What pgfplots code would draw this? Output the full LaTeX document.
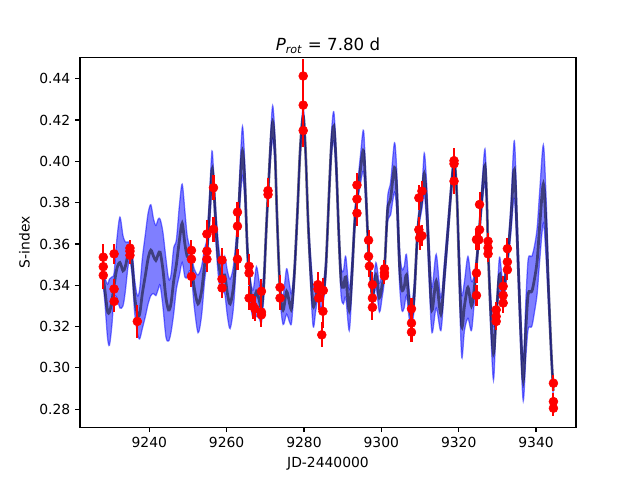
\documentclass[border=0pt]{standalone}
\usepackage{fontspec}
\setmainfont{DejaVu Sans}
\usepackage{pgfplots}
\usepackage{pgfplotstable}
\pgfplotsset{compat=1.18}

% GP model: time, mean, half width of the band
\pgfplotstableread{
t m w
9227.9 0.347 0.004
9228.5 0.338 0.006
9229.2 0.3275 0.013
9229.7 0.327 0.016
9230.3 0.332 0.012
9230.9 0.340 0.006
9231.6 0.348 0.014
9232.4 0.351 0.022
9233.2 0.347 0.017
9233.8 0.349 0.012
9234.5 0.355 0.006
9235.0 0.356 0.004
9235.6 0.350 0.006
9236.2 0.335 0.008
9236.9 0.326 0.009
9237.5 0.326 0.012
9238.2 0.336 0.017
9239.0 0.345 0.020
9239.7 0.353 0.022
9240.4 0.357 0.022
9241.1 0.354 0.018
9241.7 0.352 0.017
9242.3 0.355 0.017
9242.8 0.356 0.016
9243.5 0.348 0.018
9244.3 0.334 0.019
9245.0 0.328 0.015
9245.6 0.331 0.014
9246.3 0.342 0.016
9247.0 0.350 0.012
9247.8 0.362 0.017
9248.5 0.370 0.019
9249.2 0.360 0.016
9249.8 0.354 0.010
9250.4 0.353 0.006
9250.9 0.350 0.005
9251.6 0.339 0.009
9252.6 0.331 0.014
9253.5 0.337 0.012
9254.3 0.350 0.008
9254.9 0.357 0.006
9255.6 0.377 0.008
9256.2 0.396 0.009
9256.6 0.390 0.006
9257.3 0.366 0.008
9258.0 0.350 0.008
9258.8 0.343 0.006
9259.5 0.345 0.009
9260.2 0.336 0.011
9260.9 0.331 0.012
9261.8 0.340 0.010
9262.8 0.365 0.006
9263.5 0.390 0.009
9264.1 0.405 0.012
9264.7 0.390 0.009
9265.3 0.360 0.006
9265.8 0.345 0.004
9266.4 0.334 0.006
9266.9 0.331 0.007
9267.7 0.337 0.012
9268.4 0.333 0.009
9269.0 0.329 0.007
9269.6 0.340 0.006
9270.2 0.365 0.005
9270.7 0.384 0.004
9271.3 0.405 0.006
9271.9 0.419 0.008
9272.5 0.405 0.007
9273.0 0.375 0.006
9273.8 0.338 0.004
9274.6 0.328 0.007
9275.5 0.337 0.011
9276.3 0.331 0.009
9276.8 0.329 0.007
9277.5 0.345 0.005
9278.3 0.375 0.005
9279.0 0.405 0.004
9279.8 0.422 0.004
9280.4 0.405 0.004
9281.2 0.365 0.005
9282.3 0.331 0.010
9283.0 0.334 0.007
9283.6 0.338 0.004
9284.3 0.333 0.004
9285.0 0.336 0.004
9285.7 0.350 0.005
9286.5 0.385 0.005
9287.1 0.408 0.006
9287.7 0.417 0.007
9288.3 0.400 0.007
9289.0 0.365 0.006
9289.6 0.342 0.007
9290.2 0.339 0.008
9290.8 0.344 0.010
9291.7 0.328 0.010
9292.4 0.345 0.007
9293.1 0.370 0.005
9293.7 0.382 0.004
9294.6 0.396 0.007
9295.4 0.405 0.010
9296.0 0.385 0.007
9296.7 0.356 0.004
9297.2 0.345 0.004
9297.7 0.334 0.004
9298.6 0.345 0.006
9299.5 0.334 0.007
9300.2 0.340 0.006
9300.8 0.347 0.004
9301.6 0.376 0.006
9302.4 0.382 0.008
9303.4 0.397 0.012
9304.0 0.385 0.010
9304.7 0.350 0.009
9305.3 0.338 0.010
9305.9 0.339 0.010
9306.5 0.345 0.010
9307.2 0.331 0.007
9307.8 0.325 0.005
9308.5 0.335 0.006
9309.2 0.360 0.005
9309.7 0.372 0.004
9310.5 0.382 0.005
9311.1 0.394 0.010
9311.7 0.380 0.010
9312.4 0.350 0.010
9313.1 0.328 0.011
9314.2 0.342 0.013
9315.4 0.326 0.008
9316.3 0.345 0.006
9317.2 0.366 0.005
9318.0 0.385 0.004
9318.8 0.400 0.003
9319.5 0.385 0.004
9320.2 0.345 0.010
9320.8 0.320 0.015
9321.5 0.330 0.012
9322.4 0.339 0.015
9323.3 0.330 0.012
9324.0 0.338 0.007
9324.6 0.350 0.004
9325.4 0.368 0.004
9326.1 0.385 0.006
9326.8 0.398 0.008
9327.3 0.380 0.006
9327.6 0.358 0.004
9328.2 0.330 0.008
9329.0 0.307 0.013
9329.7 0.325 0.004
9330.5 0.345 0.008
9331.0 0.340 0.008
9331.5 0.336 0.004
9332.0 0.342 0.005
9332.6 0.352 0.004
9333.5 0.372 0.007
9334.4 0.396 0.014
9335.2 0.360 0.010
9336.0 0.320 0.010
9336.7 0.294 0.010
9337.4 0.320 0.014
9338.0 0.336 0.017
9338.9 0.337 0.017
9339.6 0.343 0.016
9340.3 0.352 0.016
9341.0 0.370 0.017
9341.9 0.389 0.019
9342.6 0.368 0.015
9343.3 0.335 0.008
9344.0 0.305 0.005
9344.5 0.289 0.004
}\gpmodel

% measurements: time, S-index, error
\pgfplotstableread{
t s e
9228.1 0.3536 0.0065
9228.1 0.3490 0.0065
9228.1 0.3448 0.0065
9230.9 0.3552 0.005
9230.9 0.3382 0.005
9230.9 0.3322 0.005
9235.0 0.3580 0.004
9235.0 0.3565 0.004
9235.0 0.3545 0.004
9236.9 0.3225 0.008
9250.9 0.3569 0.005
9250.9 0.3526 0.005
9250.9 0.3443 0.005
9254.9 0.3648 0.007
9254.9 0.3565 0.006
9254.9 0.3526 0.006
9256.6 0.3872 0.006
9256.6 0.3671 0.006
9258.8 0.3522 0.006
9258.8 0.3430 0.005
9258.8 0.3387 0.005
9262.8 0.3754 0.005
9262.8 0.3686 0.005
9262.8 0.3526 0.005
9265.8 0.3492 0.006
9265.8 0.3459 0.006
9265.8 0.3338 0.006
9266.9 0.3298 0.006
9267.3 0.3286 0.006
9269.0 0.3371 0.006
9269.0 0.3270 0.006
9269.0 0.3257 0.006
9270.7 0.3858 0.006
9270.7 0.3839 0.006
9273.8 0.3390 0.006
9273.8 0.3338 0.006
9279.8 0.4413 0.008
9279.8 0.4272 0.008
9279.8 0.4149 0.008
9283.6 0.3403 0.006
9283.6 0.3382 0.006
9283.8 0.3338 0.006
9284.6 0.3160 0.006
9284.9 0.3274 0.008
9285.0 0.3375 0.006
9293.7 0.3885 0.006
9293.7 0.3817 0.006
9293.7 0.3749 0.006
9296.7 0.3618 0.005
9296.7 0.3540 0.005
9296.9 0.3492 0.005
9297.7 0.3403 0.006
9297.7 0.3338 0.006
9297.7 0.3293 0.006
9300.8 0.3480 0.004
9300.8 0.3460 0.004
9300.8 0.3445 0.004
9307.8 0.3286 0.005
9307.8 0.3217 0.005
9307.8 0.3173 0.005
9309.7 0.3823 0.006
9309.7 0.3669 0.006
9309.9 0.3629 0.006
9310.5 0.3856 0.005
9310.5 0.3640 0.005
9318.8 0.4003 0.006
9318.8 0.3988 0.006
9318.8 0.3904 0.006
9324.6 0.3621 0.005
9324.6 0.3459 0.005
9324.6 0.3351 0.005
9325.4 0.3791 0.006
9325.4 0.3669 0.006
9325.2 0.3620 0.005
9327.6 0.3613 0.004
9327.6 0.3581 0.004
9327.6 0.3552 0.004
9329.7 0.3281 0.004
9329.7 0.3249 0.004
9329.7 0.3225 0.004
9331.5 0.3395 0.005
9331.5 0.3351 0.005
9331.5 0.3314 0.005
9332.6 0.3577 0.005
9332.6 0.3513 0.005
9332.6 0.3475 0.005
9344.5 0.2926 0.004
9344.5 0.2837 0.004
9344.5 0.2805 0.004
}\sdata

\begin{document}
\begin{tikzpicture}
\draw[white, line width=0pt] (-57.6pt,-38.02pt) rectangle (403.2pt,307.58pt);
\begin{axis}[
    at={(0,0)}, anchor=south west,
    scale only axis, width=357.12pt, height=266.11pt,
    xmin=9222.08, xmax=9350.34,
    ymin=0.2713, ymax=0.4502,
    xtick={9240,9260,9280,9300,9320,9340},
    ytick={0.28,0.30,0.32,0.34,0.36,0.38,0.40,0.42,0.44},
    tick align=outside, tick pos=left,
    major tick length=3.5pt,
    every tick/.style={black, line width=0.8pt},
    axis line style={line width=0.8pt},
    /pgf/number format/assume math mode=true,
    x tick label style={/pgf/number format/1000 sep={}},
    y tick label style={/pgf/number format/.cd, fixed, fixed zerofill, precision=2},
    ticklabel style={font=\fontsize{10}{12}\selectfont},
    xlabel={JD-2440000}, ylabel={S-index},
    label style={font=\fontsize{10}{12}\selectfont},
    title={\textit{P}\textsubscript{\textit{rot}} = 7.80 d},
    title style={font=\fontsize{12}{14}\selectfont, yshift=-6.5pt},
]
% band: lower edge (invisible) with the width stacked on top
\addplot[draw=none, stack plots=y, smooth, forget plot]
    table[x=t, y expr=\thisrow{m}-\thisrow{w}] {\gpmodel};
\addplot[fill=blue, fill opacity=0.5, draw=none, stack plots=y, smooth, forget plot]
    table[x=t, y expr=2*\thisrow{w}] {\gpmodel} \closedcycle;
\addplot[blue, draw opacity=0.5, line width=0.9pt, smooth, stack plots=false]
    table[x=t, y expr=\thisrow{m}+\thisrow{w}] {\gpmodel};
\addplot[blue, draw opacity=0.5, line width=0.9pt, smooth, stack plots=false]
    table[x=t, y expr=\thisrow{m}-\thisrow{w}] {\gpmodel};
\addplot[black, draw opacity=0.5, line width=2pt, smooth, stack plots=false]
    table[x=t, y=m] {\gpmodel};

\addplot[only marks, red, mark=*, mark size=3.2pt, stack plots=false,
    error bars/.cd, y dir=both, y explicit, error mark=none,
    error bar style={red, line width=1.5pt}]
    table[x=t, y=s, y error=e] {\sdata};
\end{axis}
\end{tikzpicture}
\end{document}
